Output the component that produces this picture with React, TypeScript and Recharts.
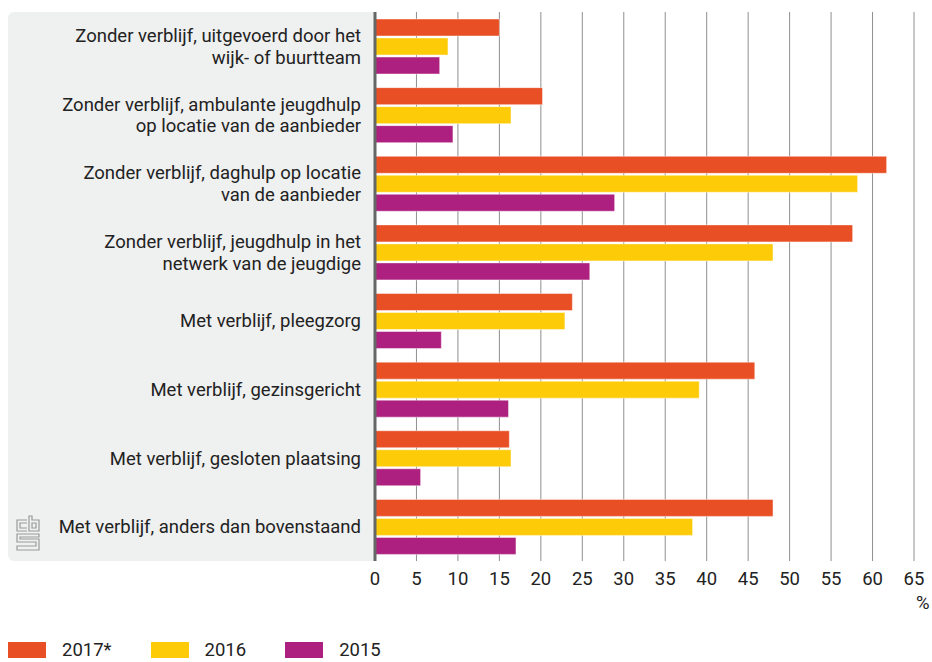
import React from "react";
import { BarChart, Bar, XAxis, YAxis, CartesianGrid } from "recharts";

const categories = [
  "Zonder verblijf, uitgevoerd door het\nwijk- of buurtteam",
  "Zonder verblijf, ambulante jeugdhulp\nop locatie van de aanbieder",
  "Zonder verblijf, daghulp op locatie\nvan de aanbieder",
  "Zonder verblijf, jeugdhulp in het\nnetwerk van de jeugdige",
  "Met verblijf, pleegzorg",
  "Met verblijf, gezinsgericht",
  "Met verblijf, gesloten plaatsing",
  "Met verblijf, anders dan bovenstaand",
];
const values2017 = [15.0, 20.2, 61.7, 57.6, 23.8, 45.8, 16.2, 48.0];
const values2016 = [8.8, 16.4, 58.2, 48.0, 22.9, 39.1, 16.4, 38.3];
const values2015 = [7.8, 9.4, 28.9, 25.9, 8.0, 16.1, 5.5, 17.0];
const seriesNames = ["2017*", "2016", "2015"];
const seriesColors = ["#e84f25", "#fdcb08", "#ae2080"];
const xTicks = [0, 5, 10, 15, 20, 25, 30, 35, 40, 45, 50, 55, 60, 65];
const unitLabel = "%";

const data = categories.map((c, i) => ({
  name: c,
  s0: values2017[i],
  s1: values2016[i],
  s2: values2015[i],
}));

const FONT = "Roboto, 'Liberation Sans', sans-serif";
const TEXT = "#222";

const YTick = (props: any) => {
  const { x, y, payload } = props;
  const lines = String(payload.value).split("\n");
  const lh = 21.5;
  const start = y - ((lines.length - 1) * lh) / 2 + 6.6;
  return (
    <g>
      {lines.map((l, i) => (
        <text
          key={i}
          x={x}
          y={start + i * lh}
          textAnchor="end"
          fill={TEXT}
          fontSize={18.5}
          fontFamily={FONT}
        >
          {l}
        </text>
      ))}
    </g>
  );
};

const XTick = (props: any) => {
  const { x, payload } = props;
  return (
    <text x={x} y={585} textAnchor="middle" fill={TEXT} fontSize={18.5} fontFamily={FONT}>
      {payload.value}
    </text>
  );
};

const CbsLogo = () => (
  <svg width={24} height={36} viewBox="0 0 24 36" style={{ position: "absolute", left: 16, top: 515 }}>
    <g fill="none" stroke="#9a9a9a" strokeWidth={1.2}>
      <path d="M11,5 H1 V16 H11" />
      <path d="M11,8 H4 V13 H11" />
      <path d="M13,1 V16 H23 V5 H16 V1 Z" />
      <path d="M16,8 H20 V13 H16 Z" />
      <path d="M23,19 H1 V27 H20 V31 H1 V35 H23 V24 H4 V22 H23 Z" />
    </g>
  </svg>
);

export default function App() {
  return (
    <div style={{ position: "absolute", left: 0, top: 0, width: 932, height: 662, overflow: "hidden", fontFamily: FONT }}>
      <div
        style={{
          position: "absolute",
          left: 8,
          top: 12,
          width: 367,
          height: 549,
          background: "#eff0f0",
          borderRadius: "6px 0 0 6px",
        }}
      />
      <CbsLogo />
      <div style={{ position: "absolute", left: 0, top: 0 }}>
        <BarChart
          width={932}
          height={662}
          data={data}
          layout="vertical"
          margin={{ top: 12, right: 18, bottom: 71, left: 0 }}
          barSize={17}
          barGap={2}
        >
          <CartesianGrid horizontal={false} vertical={true} stroke="#8f8f8f" strokeWidth={1} />
          <XAxis
            type="number"
            domain={[0, 65]}
            ticks={xTicks}
            interval={0}
            axisLine={false}
            tickLine={false}
            height={30}
            tick={<XTick />}
          />
          <YAxis
            type="category"
            dataKey="name"
            width={375}
            axisLine={{ stroke: "#666", strokeWidth: 3 }}
            tickLine={false}
            tickSize={0}
            tickMargin={14}
            interval={0}
            tick={<YTick />}
          />
          {["s0", "s1", "s2"].map((k, i) => (
            <Bar
              key={k}
              dataKey={k}
              name={seriesNames[i]}
              fill={seriesColors[i]}
              stroke="#ffffff"
              strokeOpacity={0.45}
              strokeWidth={1}
              isAnimationActive={false}
            />
          ))}
        </BarChart>
      </div>
      <div
        style={{
          position: "absolute",
          left: 916,
          top: 592,
          fontSize: 18.5,
          color: TEXT,
        }}
      >
        {unitLabel}
      </div>
      <div
        style={{
          position: "absolute",
          left: 8,
          top: 641,
          display: "flex",
          alignItems: "center",
          height: 18,
        }}
      >
        {seriesNames.map((n, i) => (
          <div key={n} style={{ display: "flex", alignItems: "center", marginRight: 39 }}>
            <div style={{ width: 38, height: 16, background: seriesColors[i], marginRight: 16 }} />
            <span style={{ fontSize: 18.5, color: TEXT, lineHeight: "18px" }}>{n}</span>
          </div>
        ))}
      </div>
    </div>
  );
}
